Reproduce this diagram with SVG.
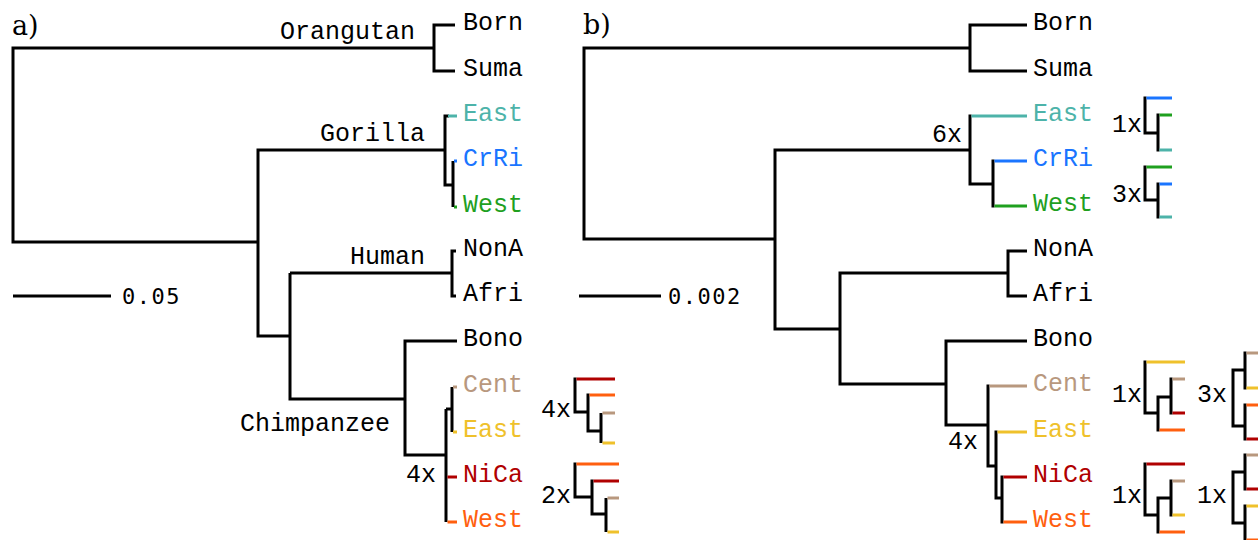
<svg xmlns="http://www.w3.org/2000/svg" width="1258" height="540" viewBox="0 0 1258 540">
<style>
.t{font-family:"Courier New","Liberation Mono",monospace;font-size:25px;fill:#000}
.s{font-family:"DejaVu Sans Mono",monospace;font-size:22px;letter-spacing:1.5px;fill:#000}
.p{font-family:"DejaVu Serif","Liberation Serif",serif;font-size:27px;fill:#000}
path,line{fill:none;stroke-width:3;stroke-linejoin:miter;stroke-linecap:butt}
.k{stroke:#000}
.teal{stroke:#4db3a9}.blue{stroke:#1a75ff}.green{stroke:#1fa01f}
.brown{stroke:#b8987e}.yellow{stroke:#efc12b}.red{stroke:#b00000}.orange{stroke:#ff5f0f}
.fteal{fill:#4db3a9}.fblue{fill:#1a75ff}.fgreen{fill:#1fa01f}
.fbrown{fill:#b8987e}.fyellow{fill:#efc12b}.fred{fill:#b00000}.forange{fill:#ff5f0f}
</style>
<rect width="1258" height="540" fill="#fff"/>
<g id="connectors">
  <!-- tree a -->
  <path class="k" d="M434 48 H13 V242 H258"/>
  <path class="k" d="M455 25 H434 V71 H455"/>
  <path class="k" d="M445 150 H258 V336 H290"/>
  <path class="k" d="M449 116 H445 V185 H453"/>
  <line class="teal" x1="448" y1="116" x2="457" y2="116"/>
  <path class="k" d="M453 161 V207"/>
  <line class="blue" x1="454" y1="161" x2="457" y2="161"/>
  <line class="green" x1="454" y1="207" x2="457" y2="207"/>
  <path class="k" d="M290 273 H452"/>
  <path class="k" d="M456 251 H452 V296 H456"/>
  <path class="k" d="M290 273 V399 H405"/>
  <path class="k" d="M457 341 H405 V455 H446"/>
  <path class="k" d="M446 409 V522"/>
  <path class="k" d="M446 409 H452"/>
  <path class="k" d="M452 387 V432"/>
  <line class="brown" x1="453" y1="387" x2="457" y2="387"/>
  <line class="yellow" x1="453" y1="432" x2="457" y2="432"/>
  <line class="red" x1="447.5" y1="477" x2="457" y2="477"/>
  <line class="orange" x1="447.5" y1="522" x2="457" y2="522"/>
  <line class="k" x1="13" y1="296" x2="111" y2="296"/>
  <!-- small trees a -->
  <path class="k" d="M576.5 379 H575 V412 H588"/>
  <line class="red" x1="576.5" y1="379" x2="615" y2="379"/>
  <path class="k" d="M589.5 395 H588 V431 H601"/>
  <line class="orange" x1="589.5" y1="395" x2="615" y2="395"/>
  <path class="k" d="M601 413 V443"/>
  <line class="brown" x1="602.5" y1="413" x2="615" y2="413"/>
  <line class="yellow" x1="602.5" y1="443" x2="615" y2="443"/>
  <path class="k" d="M576.5 464 H575 V497 H592"/>
  <line class="orange" x1="576.5" y1="464" x2="619" y2="464"/>
  <path class="k" d="M593.5 481 H592 V514 H606"/>
  <line class="red" x1="593.5" y1="481" x2="619" y2="481"/>
  <path class="k" d="M606 498 V532"/>
  <line class="brown" x1="607.5" y1="498" x2="619" y2="498"/>
  <line class="yellow" x1="607.5" y1="532" x2="619" y2="532"/>
  <!-- tree b -->
  <path class="k" d="M970 48 H584 V239 H775"/>
  <path class="k" d="M1027 25 H970 V71 H1027"/>
  <path class="k" d="M970 150 H775 V329 H840"/>
  <path class="k" d="M971.5 116 H970 V184 H993"/>
  <line class="teal" x1="971.5" y1="116" x2="1027" y2="116"/>
  <path class="k" d="M994.5 161 H993 V206 H994.5"/>
  <line class="blue" x1="994.5" y1="161" x2="1027" y2="161"/>
  <line class="green" x1="994.5" y1="206" x2="1027" y2="206"/>
  <path class="k" d="M1008 273 H840 V384 H946"/>
  <path class="k" d="M1027 251 H1008 V296 H1027"/>
  <path class="k" d="M1027 341 H946 V425 H988"/>
  <path class="k" d="M989.5 386 H988 V466 H996"/>
  <line class="brown" x1="989.5" y1="386" x2="1027" y2="386"/>
  <path class="k" d="M997.5 432 H996 V498 H1002"/>
  <line class="yellow" x1="997.5" y1="432" x2="1027" y2="432"/>
  <path class="k" d="M1003.5 477 H1002 V522 H1003.5"/>
  <line class="red" x1="1003.5" y1="477" x2="1027" y2="477"/>
  <line class="orange" x1="1003.5" y1="522" x2="1027" y2="522"/>
  <line class="k" x1="579" y1="296" x2="661" y2="296"/>
  <!-- small trees b: gorilla -->
  <path class="k" d="M1146.5 98 H1145 V133 H1158"/>
  <line class="blue" x1="1146.5" y1="98" x2="1172" y2="98"/>
  <path class="k" d="M1159.5 115 H1158 V150 H1159.5"/>
  <line class="green" x1="1159.5" y1="115" x2="1172" y2="115"/>
  <line class="teal" x1="1159.5" y1="150" x2="1172" y2="150"/>
  <path class="k" d="M1146.5 167 H1145 V200 H1158"/>
  <line class="green" x1="1146.5" y1="167" x2="1172" y2="167"/>
  <path class="k" d="M1159.5 184 H1158 V217 H1159.5"/>
  <line class="blue" x1="1159.5" y1="184" x2="1172" y2="184"/>
  <line class="teal" x1="1159.5" y1="217" x2="1172" y2="217"/>
  <!-- small trees b: chimp -->
  <path class="k" d="M1146.5 362 H1145 V413 H1158"/>
  <line class="yellow" x1="1146.5" y1="362" x2="1185" y2="362"/>
  <path class="k" d="M1159.5 430 H1158 V397 H1171"/>
  <line class="orange" x1="1159.5" y1="430" x2="1185" y2="430"/>
  <path class="k" d="M1172.5 379 H1171 V413 H1172.5"/>
  <line class="brown" x1="1172.5" y1="379" x2="1185" y2="379"/>
  <line class="red" x1="1172.5" y1="413" x2="1185" y2="413"/>

  <path class="k" d="M1245 370 H1233 V426 H1245"/>
  <path class="k" d="M1246.5 353 H1245 V388 H1246.5"/>
  <line class="brown" x1="1246.5" y1="353" x2="1262" y2="353"/>
  <line class="yellow" x1="1246.5" y1="388" x2="1262" y2="388"/>
  <path class="k" d="M1246.5 405 H1245 V439 H1246.5"/>
  <line class="orange" x1="1246.5" y1="405" x2="1262" y2="405"/>
  <line class="red" x1="1246.5" y1="439" x2="1262" y2="439"/>

  <path class="k" d="M1146.5 464 H1145 V515 H1158"/>
  <line class="red" x1="1146.5" y1="464" x2="1185" y2="464"/>
  <path class="k" d="M1159.5 532 H1158 V498 H1171"/>
  <line class="orange" x1="1159.5" y1="532" x2="1185" y2="532"/>
  <path class="k" d="M1172.5 481 H1171 V515 H1172.5"/>
  <line class="brown" x1="1172.5" y1="481" x2="1185" y2="481"/>
  <line class="yellow" x1="1172.5" y1="515" x2="1185" y2="515"/>

  <path class="k" d="M1245 472 H1233 V523 H1245"/>
  <path class="k" d="M1246.5 455 H1245 V489 H1246.5"/>
  <line class="brown" x1="1246.5" y1="455" x2="1262" y2="455"/>
  <line class="red" x1="1246.5" y1="489" x2="1262" y2="489"/>
  <path class="k" d="M1246.5 506 H1245 V541"/>
  <line class="yellow" x1="1246.5" y1="506" x2="1262" y2="506"/>
  <line class="orange" x1="1246.5" y1="540" x2="1262" y2="540"/>
</g>
<g id="panel-a-labels">
  <text class="p" x="12" y="35">a)</text>
  <g id="a-orangutan"><text class="t" x="280" y="39">Orangutan</text></g>
  <g id="a-gorilla"><text class="t" x="320" y="141">Gorilla</text></g>
  <g id="a-human"><text class="t" x="350" y="264">Human</text></g>
  <g id="a-chimpanzee"><text class="t" x="240" y="431">Chimpanzee</text></g>
  <g id="a-4x"><text class="t" x="406" y="482">4x</text></g>
  <g id="a-born"><text class="t" x="463" y="30">Born</text></g>
  <g id="a-suma"><text class="t" x="463" y="76">Suma</text></g>
  <g id="a-geast"><text class="t fteal" x="463" y="121">East</text></g>
  <g id="a-crri"><text class="t fblue" x="463" y="166">CrRi</text></g>
  <g id="a-gwest"><text class="t fgreen" x="463" y="212">West</text></g>
  <g id="a-nona"><text class="t" x="463" y="256">NonA</text></g>
  <g id="a-afri"><text class="t" x="463" y="301">Afri</text></g>
  <g id="a-bono"><text class="t" x="463" y="346">Bono</text></g>
  <g id="a-cent"><text class="t fbrown" x="463" y="392">Cent</text></g>
  <g id="a-ceast"><text class="t fyellow" x="463" y="437">East</text></g>
  <g id="a-nica"><text class="t fred" x="463" y="482">NiCa</text></g>
  <g id="a-cwest"><text class="t forange" x="463" y="527">West</text></g>
  <g id="a-scale"><text class="s" x="122" y="304">0.05</text></g>
  <g id="a-s4x"><text class="t" x="541" y="417">4x</text></g>
  <g id="a-s2x"><text class="t" x="541" y="503">2x</text></g>
</g>
<g id="panel-b-labels">
  <text class="p" x="583" y="34">b)</text>
  <g id="b-6x"><text class="t" x="932" y="142">6x</text></g>
  <g id="b-4x"><text class="t" x="948" y="449">4x</text></g>
  <g id="b-born"><text class="t" x="1033" y="30">Born</text></g>
  <g id="b-suma"><text class="t" x="1033" y="76">Suma</text></g>
  <g id="b-geast"><text class="t fteal" x="1033" y="121">East</text></g>
  <g id="b-crri"><text class="t fblue" x="1033" y="166">CrRi</text></g>
  <g id="b-gwest"><text class="t fgreen" x="1033" y="211">West</text></g>
  <g id="b-nona"><text class="t" x="1033" y="256">NonA</text></g>
  <g id="b-afri"><text class="t" x="1033" y="301">Afri</text></g>
  <g id="b-bono"><text class="t" x="1033" y="346">Bono</text></g>
  <g id="b-cent"><text class="t fbrown" x="1033" y="391">Cent</text></g>
  <g id="b-ceast"><text class="t fyellow" x="1033" y="437">East</text></g>
  <g id="b-nica"><text class="t fred" x="1033" y="482">NiCa</text></g>
  <g id="b-cwest"><text class="t forange" x="1033" y="527">West</text></g>
  <g id="b-scale"><text class="s" x="668" y="304">0.002</text></g>
  <g id="b-s1x-a"><text class="t" x="1112" y="132">1x</text></g>
  <g id="b-s3x-a"><text class="t" x="1112" y="202">3x</text></g>
  <g id="b-s1x-b"><text class="t" x="1112" y="402">1x</text></g>
  <g id="b-s3x-b"><text class="t" x="1197" y="402">3x</text></g>
  <g id="b-s1x-c"><text class="t" x="1112" y="503">1x</text></g>
  <g id="b-s1x-d"><text class="t" x="1197" y="503">1x</text></g>
</g>
</svg>
